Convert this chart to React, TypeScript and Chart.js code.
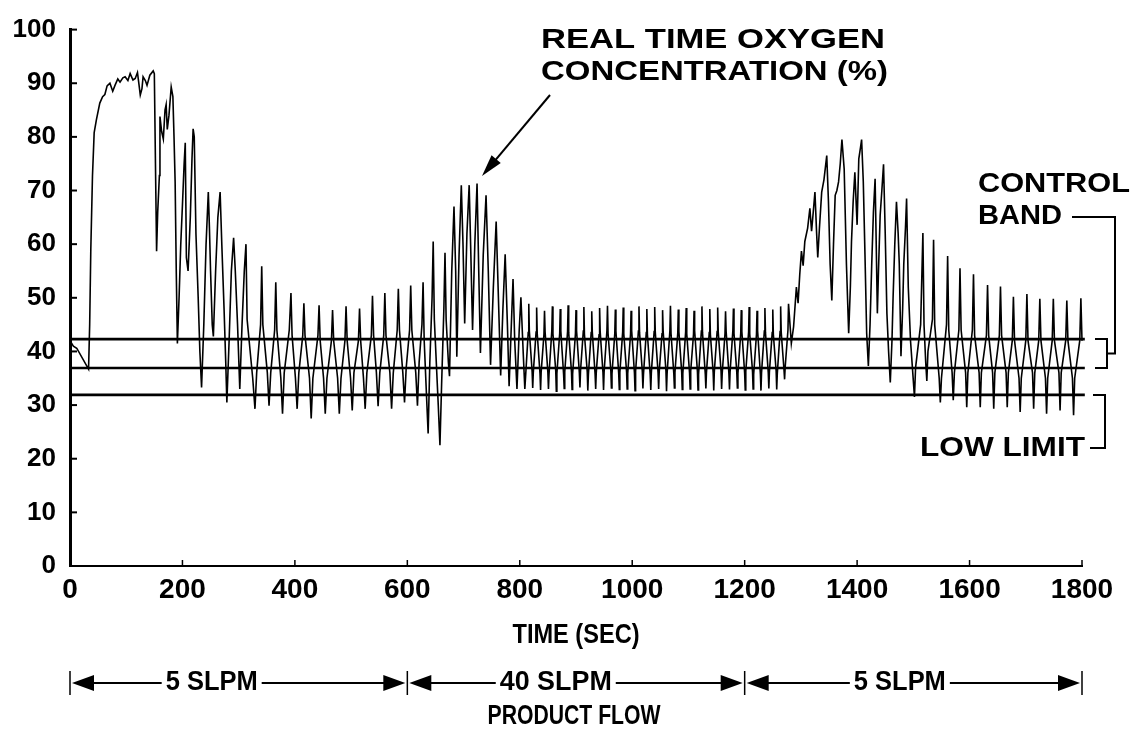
import React, { useEffect, useRef } from "react";
import { Chart, registerables } from "chart.js";

Chart.register(...registerables);

type Pt = [number, number];

// Oxygen trace, [time (s), O2 (%)]
const traceStartup: Pt[] = [
  [0, 42], [6, 41], [12, 40.6], [33, 36.7], [35, 45], [37, 59], [40, 72.8], [43, 80.8], [47, 83.2],
  [53, 86.3], [58, 87.5], [62, 87.9], [66, 89.5], [71, 90], [76, 88.5], [80, 89.6], [85, 90.8],
  [89, 90.2], [94, 91], [98, 91.2], [103, 90.5], [107, 91.8], [112, 90.6], [116, 90.9], [120, 92],
  [123, 89.5], [125, 87.8], [128, 89], [130, 91.2], [134, 90.5], [137, 89.6], [142, 91.5], [148, 92.3],
  [150, 91.8], [152, 75], [154, 58.7], [156, 66], [159, 72.8], [160, 83.8], [163, 81], [166, 79.6],
  [169, 85], [171, 86], [173, 81.4], [176, 84], [180, 89.3], [183, 87.5], [185, 80], [187, 71.6],
  [189, 55], [191, 41.5], [194, 50], [197, 60], [200, 67.3], [203, 75], [205, 78.9], [207, 57.5],
  [210, 55], [214, 65], [217, 76], [219, 81.5], [221, 80], [224, 62], [228, 50], [231, 40], [234, 33.3],
  [238, 45], [242, 60], [246, 69.7], [248, 63], [250, 55], [253, 45], [255, 42.8], [259, 55], [263, 65],
  [267, 69.7], [270, 60], [274, 48], [277, 38], [279, 30.5], [283, 42], [287, 55], [291, 61.2],
  [294, 55], [298, 45], [302, 33], [306, 45], [310, 55], [313, 60],
];

const traceLowFlowA: Pt[] = [
  [315, 46], [325, 35], [329, 29.3], [332, 36], [339, 45], [341, 55.9], [343, 45], [351, 36],
  [354, 29.9], [357, 36], [364, 44], [366, 52.9], [368, 44], [375, 35], [378, 28.4], [381, 36],
  [390, 44], [393, 50.9], [395, 43], [401, 35], [404, 29.3], [407, 36], [414, 43], [416, 49],
  [418, 43], [426, 35], [429, 27.5], [432, 35], [441, 43], [443, 48.6], [445, 42], [451, 35],
  [454, 28.4], [457, 35], [465, 42], [467, 47.7], [469, 42], [476, 35], [479, 28.4], [482, 35],
  [489, 42], [491, 48.4], [493, 42], [499, 35], [502, 29], [505, 36], [513, 42], [515, 48],
  [517, 42], [522, 35], [525, 29.3], [528, 36], [536, 43], [538, 50.4], [540, 43], [545, 36],
  [548, 29.8], [551, 36], [558, 43], [560, 50.9], [562, 43], [569, 36], [572, 29.3], [575, 36],
  [582, 44], [584, 51.7], [586, 44], [592, 36], [595, 30.5], [598, 37], [604, 44], [606, 52.3],
  [608, 44], [615, 36], [618, 29.9], [621, 38], [626, 45], [628, 52.9], [630, 42], [634, 32],
  [637, 24.7], [640, 38], [644, 50], [646, 60.5], [648, 46], [655, 30], [658, 22.5], [661, 34],
  [665, 48], [667, 58.4], [669, 46], [673, 38], [675, 35.4],
];

const traceHighFlowRamp: Pt[] = [
  [679, 55], [683, 67], [686, 55], [688, 39], [692, 58], [696, 71], [699, 60], [702, 45.2],
  [706, 62], [710, 71], [713, 58], [716, 44], [720, 60], [724, 71.3], [727, 55], [730, 39.7],
  [735, 58], [740, 69.1], [744, 55], [748, 37.5], [753, 52], [758, 64.2], [762, 50], [766, 35.5],
  [770, 48], [774, 58.1], [778, 45], [781, 33.5], [785, 45], [788, 53.5], [791, 42], [795, 33],
  [799, 44], [802, 50.1], [806, 40], [809, 33],
];

const traceHighFlowSteady: Pt[] = [
  [815, 43.5], [816, 48.9], [817, 43.8], [822, 36.2], [823, 33.2], [824, 36.0],
  [829, 43.6], [830, 48.2], [831, 43.4], [836, 35.8], [837, 32.8], [838, 36.1],
  [843, 43.2], [844, 47.6], [845, 43.7], [850, 36.0], [851, 33.0], [852, 35.7],
  [857, 43.9], [858, 48.4], [859, 43.3], [864, 36.3], [865, 32.6], [866, 35.9],
  [871, 43.4], [872, 47.9], [873, 43.8], [878, 35.6], [879, 33.1], [880, 36.2],
  [885, 43.7], [886, 48.6], [887, 43.5], [892, 36.1], [893, 32.9], [894, 35.8],
  [899, 43.3], [900, 47.7], [901, 43.9], [906, 35.9], [907, 33.3], [908, 36.3],
  [913, 43.8], [914, 48.3], [915, 43.2], [920, 36.2], [921, 32.7], [922, 35.6],
  [927, 43.5], [928, 47.5], [929, 43.6], [934, 35.7], [935, 33.0], [936, 36.0],
  [941, 43.1], [942, 48.1], [943, 43.7], [948, 36.0], [949, 32.8], [950, 36.2],
  [955, 43.9], [956, 48.5], [957, 43.4], [962, 36.3], [963, 33.2], [964, 35.8],
  [969, 43.4], [970, 47.8], [971, 43.8], [976, 35.8], [977, 32.9], [978, 36.1],
  [983, 43.6], [984, 48.2], [985, 43.3], [990, 36.1], [991, 33.0], [992, 35.9],
  [997, 43.2], [998, 47.6], [999, 43.9], [1004, 35.9], [1005, 32.7], [1006, 36.3],
  [1011, 43.8], [1012, 48.4], [1013, 43.5], [1018, 36.2], [1019, 33.1], [1020, 35.7],
  [1025, 43.5], [1026, 47.9], [1027, 43.2], [1032, 35.6], [1033, 32.8], [1034, 36.0],
  [1039, 43.7], [1040, 48.3], [1041, 43.6], [1046, 36.0], [1047, 33.0], [1048, 36.2],
  [1053, 43.3], [1054, 47.7], [1055, 43.8], [1060, 36.3], [1061, 32.6], [1062, 35.8],
  [1067, 43.9], [1068, 48.5], [1069, 43.4], [1074, 35.8], [1075, 33.2], [1076, 36.1],
  [1081, 43.4], [1082, 47.8], [1083, 43.7], [1088, 36.1], [1089, 32.9], [1090, 35.9],
  [1095, 43.6], [1096, 48.1], [1097, 43.3], [1102, 35.9], [1103, 33.0], [1104, 36.3],
  [1109, 43.2], [1110, 47.6], [1111, 43.9], [1116, 36.2], [1117, 32.8], [1118, 35.7],
  [1123, 43.8], [1124, 48.4], [1125, 43.5], [1130, 35.7], [1131, 33.1], [1132, 36.0],
  [1137, 43.5], [1138, 47.9], [1139, 43.2], [1144, 36.0], [1145, 32.7], [1146, 36.2],
  [1151, 43.7], [1152, 48.2], [1153, 43.6], [1158, 36.3], [1159, 33.0], [1160, 35.8],
  [1165, 43.3], [1166, 47.5], [1167, 43.8], [1172, 35.8], [1173, 32.9], [1174, 36.1],
  [1179, 43.9], [1180, 48.0], [1181, 43.4], [1186, 36.1], [1187, 33.2], [1188, 35.9],
  [1193, 43.4], [1194, 47.7], [1195, 43.7], [1200, 35.9], [1201, 32.8], [1202, 36.3],
  [1207, 43.6], [1208, 48.3], [1209, 43.3], [1214, 36.2], [1215, 33.0], [1216, 35.7],
  [1221, 43.2], [1222, 47.6], [1223, 43.9], [1228, 35.7], [1229, 32.7], [1230, 36.0],
  [1235, 43.8], [1236, 48.1], [1237, 43.5], [1242, 36.0], [1243, 33.1], [1244, 36.2],
  [1249, 43.5], [1250, 47.8], [1251, 43.2], [1256, 36.3], [1257, 32.9], [1258, 35.8],
  [1263, 43.7], [1264, 48.4], [1265, 43.6], [1270, 36.5], [1271, 34.8], [1272, 37],
  [1277, 44], [1278, 48.9],
];

const traceLowFlowB: Pt[] = [
  [1283, 41.5], [1287, 44.6], [1292, 52], [1295, 49], [1298, 54.4], [1301, 58.7], [1304, 56],
  [1307, 60.5], [1312, 63], [1316, 66.7], [1319, 62.4], [1322, 66], [1325, 69.7], [1328, 62],
  [1330, 57.5], [1333, 63], [1337, 69.7], [1341, 72], [1346, 76.5], [1349, 68], [1352, 56.3],
  [1355, 49.5], [1358, 60], [1361, 69.1], [1364, 70], [1367, 71.6], [1370, 75], [1373, 79.5],
  [1377, 74], [1381, 56.3], [1385, 43.4], [1388, 52], [1390, 60.5], [1393, 68], [1396, 73.4],
  [1400, 63.6], [1403, 75.9], [1406, 78], [1408, 79.5], [1411, 71.6], [1414, 58], [1417, 43.4],
  [1420, 37.3], [1423, 45], [1426, 56.3], [1429, 66], [1432, 72.2], [1434, 60], [1436, 47.1],
  [1438, 55], [1441, 65.4], [1444, 70], [1447, 74.9], [1450, 62], [1453, 47.1], [1456, 40],
  [1459, 34.2], [1462, 42], [1464, 50.1], [1467, 60], [1470, 67.9], [1473, 62], [1475, 56.3],
  [1477, 45], [1478, 39.1], [1481, 48], [1483, 56.3], [1486, 63], [1488, 68.5], [1491, 52],
  [1495, 42], [1499, 36], [1502, 31.5], [1504, 37], [1513, 45], [1517, 62.1], [1519, 45],
  [1522, 38], [1524, 34.5], [1526, 40], [1534, 46], [1536, 60.8], [1538, 45], [1546, 35],
  [1548, 30.5], [1550, 35], [1559, 45], [1561, 57.8], [1563, 44], [1569, 36], [1571, 30.9],
  [1573, 36], [1581, 44], [1583, 55.5], [1585, 44], [1593, 36], [1595, 29.6], [1597, 36],
  [1605, 44], [1607, 54.4], [1609, 43], [1617, 36], [1619, 29.6], [1621, 36], [1630, 43],
  [1632, 52.4], [1634, 43], [1641, 36], [1643, 29.3], [1645, 36], [1653, 43], [1655, 52.1],
  [1657, 43], [1665, 36], [1667, 29.6], [1669, 36], [1676, 42], [1678, 50.2], [1680, 42],
  [1688, 35], [1690, 28.7], [1692, 35], [1700, 42], [1702, 50.7], [1704, 42], [1712, 36],
  [1714, 29.3], [1716, 36], [1723, 42], [1725, 49.8], [1727, 42], [1735, 35], [1737, 28.4],
  [1739, 35], [1747, 42], [1749, 49.8], [1751, 42], [1759, 36], [1761, 29], [1763, 36],
  [1771, 42], [1773, 49.5], [1775, 42], [1783, 35], [1785, 28.1], [1787, 35], [1796, 42],
  [1798, 49.9], [1800, 42], [1804, 33],
];

const controlBandUpper = 42.3;
const controlBandLower = 36.9;
const lowLimit = 31.9;
const referenceLineEnd = 1805;

const xTickValues = [0, 200, 400, 600, 800, 1000, 1200, 1400, 1600, 1800];
const yTickValues = [0, 10, 20, 30, 40, 50, 60, 70, 80, 90, 100];

const flowBoundaries = [0, 600, 1200, 1800];
const flowLabels = ["5 SLPM", "40 SLPM", "5 SLPM"];
const flowLabelFraction = [0.42, 0.44, 0.46];
const flowLabelWidth = [92, 112, 92];

const FONT = '"Liberation Sans", Arial, Helvetica, sans-serif';

function drawLabel(
  ctx: CanvasRenderingContext2D,
  s: string,
  x: number,
  cy: number,
  size: number,
  width: number,
  align: "left" | "center" | "right"
) {
  ctx.save();
  ctx.font = `bold ${size}px ${FONT}`;
  ctx.textBaseline = "middle";
  ctx.textAlign = "left";
  const natural = ctx.measureText(s).width;
  const sx = width / natural;
  const left = align === "left" ? x : align === "center" ? x - width / 2 : x - width;
  ctx.translate(left, cy);
  ctx.scale(sx, 1);
  ctx.fillText(s, 0, 0);
  ctx.restore();
}

function seg(ctx: CanvasRenderingContext2D, x1: number, y1: number, x2: number, y2: number) {
  ctx.beginPath();
  ctx.moveTo(x1, y1);
  ctx.lineTo(x2, y2);
  ctx.stroke();
}

function head(ctx: CanvasRenderingContext2D, tx: number, ty: number, ux: number, uy: number, len: number, half: number) {
  const bx = tx - ux * len;
  const by = ty - uy * len;
  const nx = -uy;
  const ny = ux;
  ctx.beginPath();
  ctx.moveTo(tx, ty);
  ctx.lineTo(bx + nx * half, by + ny * half);
  ctx.lineTo(bx - nx * half, by - ny * half);
  ctx.closePath();
  ctx.fill();
}

const overlayPlugin = {
  id: "figureOverlay",
  afterDraw(chart: any) {
    const ctx: CanvasRenderingContext2D = chart.ctx;
    const xs = chart.scales.x;
    const ys = chart.scales.y;
    const { left, bottom } = chart.chartArea;
    ctx.save();
    ctx.strokeStyle = "#000";
    ctx.fillStyle = "#000";
    ctx.lineCap = "butt";

    // inward tick marks
    ctx.lineWidth = 2;
    yTickValues.forEach((v) => {
      const y = ys.getPixelForValue(v);
      if (v > 0) seg(ctx, left, y, left + 7, y);
    });
    ctx.lineWidth = 1.5;
    xTickValues.forEach((v) => {
      if (v === 0) return;
      const x = xs.getPixelForValue(v);
      seg(ctx, x, bottom, x, bottom - 6);
    });

    // Real time oxygen annotation
    drawLabel(ctx, "REAL TIME OXYGEN", 541, 40, 28, 344, "left");
    drawLabel(ctx, "CONCENTRATION (%)", 541, 72, 28, 347, "left");
    const sx = 550, sy = 95, tx = 482, ty = 176;
    const dx = tx - sx, dy = ty - sy;
    const L = Math.hypot(dx, dy);
    const ux = dx / L, uy = dy / L;
    ctx.lineWidth = 2;
    seg(ctx, sx, sy, tx - ux * 14, ty - uy * 14);
    head(ctx, tx, ty, ux, uy, 22, 6);

    // Control band
    drawLabel(ctx, "CONTROL", 978, 185, 27, 152, "left");
    drawLabel(ctx, "BAND", 978, 217, 27, 84, "left");
    const yUp = ys.getPixelForValue(controlBandUpper);
    const yLo = ys.getPixelForValue(controlBandLower);
    const yLim = ys.getPixelForValue(lowLimit);
    const yMid = (yUp + yLo) / 2;
    ctx.lineWidth = 2;
    ctx.beginPath();
    ctx.moveTo(1072, 217);
    ctx.lineTo(1115, 217);
    ctx.lineTo(1115, yMid);
    ctx.lineTo(1107, yMid);
    ctx.stroke();
    ctx.beginPath();
    ctx.moveTo(1095, yUp);
    ctx.lineTo(1107, yUp);
    ctx.lineTo(1107, yLo);
    ctx.lineTo(1095, yLo);
    ctx.stroke();

    // Low limit
    drawLabel(ctx, "LOW LIMIT", 920, 448, 28, 165, "left");
    ctx.beginPath();
    ctx.moveTo(1093, yLim);
    ctx.lineTo(1105, yLim);
    ctx.lineTo(1105, 448);
    ctx.lineTo(1090, 448);
    ctx.stroke();

    // Axis title
    drawLabel(ctx, "TIME (SEC)", 576, 636, 27, 127, "center");

    // Product flow bar
    const fy = 683;
    ctx.lineWidth = 1.5;
    flowBoundaries.forEach((b) => {
      const x = xs.getPixelForValue(b);
      seg(ctx, x, fy - 12, x, fy + 12);
    });
    for (let i = 0; i < flowLabels.length; i++) {
      const xl = xs.getPixelForValue(flowBoundaries[i]);
      const xr = xs.getPixelForValue(flowBoundaries[i + 1]);
      const cx = xl + flowLabelFraction[i] * (xr - xl);
      const w = flowLabelWidth[i];
      drawLabel(ctx, flowLabels[i], cx, fy, 27, w, "center");
      ctx.lineWidth = 2;
      seg(ctx, xl + 10, fy, cx - w / 2 - 4, fy);
      seg(ctx, cx + w / 2 + 4, fy, xr - 10, fy);
      head(ctx, xl + 2, fy, -1, 0, 22, 8);
      head(ctx, xr - 2, fy, 1, 0, 22, 8);
    }
    drawLabel(ctx, "PRODUCT FLOW", 574, 717, 27, 173, "center");

    ctx.restore();
  },
};

export default function App() {
  const ref = useRef<HTMLCanvasElement>(null);

  useEffect(() => {
    document.body.style.margin = "0";
    const trace = [
      ...traceStartup,
      ...traceLowFlowA,
      ...traceHighFlowRamp,
      ...traceHighFlowSteady,
      ...traceLowFlowB,
    ].map(([x, y]) => ({ x, y }));
    const hLine = (v: number) => [
      { x: 0, y: v },
      { x: referenceLineEnd, y: v },
    ];
    const lineStyle = { borderColor: "#000", pointRadius: 0, tension: 0, clip: false as any, fill: false };
    const chart = new Chart(ref.current as HTMLCanvasElement, {
      type: "line",
      data: {
        datasets: [
          { label: "O2", data: trace, borderWidth: 1.6, ...lineStyle },
          { label: "Control band upper", data: hLine(controlBandUpper), borderWidth: 2.6, ...lineStyle },
          { label: "Control band lower", data: hLine(controlBandLower), borderWidth: 2.6, ...lineStyle },
          { label: "Low limit", data: hLine(lowLimit), borderWidth: 2.6, ...lineStyle },
        ],
      },
      options: {
        responsive: false,
        animation: false,
        devicePixelRatio: 1,
        events: [],
        layout: { padding: { top: 22, right: 56, left: 0, bottom: 0 } },
        plugins: { legend: { display: false }, tooltip: { enabled: false }, title: { display: false } },
        scales: {
          x: {
            type: "linear",
            min: 0,
            max: 1800,
            afterFit: (s: any) => {
              s.height = 166;
            },
            afterBuildTicks: (s: any) => {
              s.ticks = xTickValues.map((v) => ({ value: v }));
            },
            grid: { display: false, drawTicks: false },
            border: { display: true, color: "#000", width: 2 },
            ticks: {
              autoSkip: false,
              maxRotation: 0,
              color: "#000",
              padding: 7,
              font: { family: FONT, size: 28, weight: "bold" },
              callback: (v: any) => String(v),
            },
          },
          y: {
            min: 0,
            max: 100,
            afterFit: (s: any) => {
              s.width = 70;
            },
            afterBuildTicks: (s: any) => {
              s.ticks = yTickValues.map((v) => ({ value: v }));
            },
            grid: { display: false, drawTicks: false },
            border: { display: true, color: "#000", width: 3 },
            ticks: {
              autoSkip: false,
              color: "#000",
              padding: 14,
              font: { family: FONT, size: 26, weight: "bold" },
              callback: (v: any) => String(v),
            },
          },
        },
      } as any,
      plugins: [overlayPlugin],
    });
    return () => chart.destroy();
  }, []);

  return <canvas ref={ref} width={1138} height={732} style={{ display: "block" }} />;
}
